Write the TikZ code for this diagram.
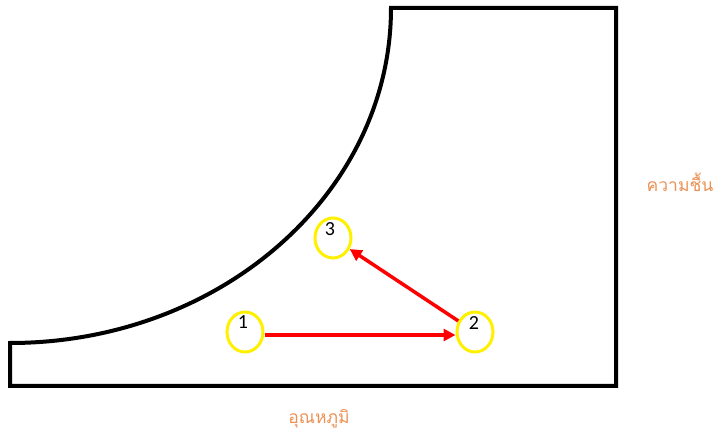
\documentclass[tikz,border=0pt]{standalone}
\usepackage{fontspec}
\setmainfont{Carlito}
\newfontfamily\thaifont[Script=Thai]{Loma}
\usepackage{tikz}
\usetikzlibrary{shapes.geometric, arrows.meta, positioning, calc}
\definecolor{stateyellow}{RGB}{255, 240, 0}
\definecolor{moveRed}{RGB}{255, 0, 0}
\definecolor{axisorange}{RGB}{235, 145, 85}

\begin{document}
\begin{tikzpicture}[
    x=1pt, y=1pt,
    region/.style={draw=black, line width=4pt, line join=miter},
    state/.style={ellipse, draw=stateyellow, line width=3pt, minimum width=36pt, minimum height=40pt, inner sep=0pt},
    num/.style={font=\fontsize{20}{20}\selectfont, text=black, inner sep=0pt},
    move/.style={draw=moveRed, line width=3.5pt, -{Triangle[length=12pt, width=12pt]}},
    axis/.style={font=\thaifont\fontsize{17.5}{20}\selectfont, text=axisorange}
]
    \useasboundingbox (0,0) rectangle (716,437);

    % comfort region
    \draw [region] (391,429) arc[start angle=0, end angle=-90, x radius=381, y radius=335]
        -- (10,51) -- (616,51) -- (616,429) -- cycle;

    \node (s1) [state] at (245,105) {};
    \node (s2) [state] at (475,105) {};
    \node (s3) [state] at (333,199) {};
    \node [num] at ($(s1)+(-2,10)$) {1};
    \node [num] at ($(s2)+(-1,9)$) {2};
    \node [num] at ($(s3)+(-3,9)$) {3};

    \draw [move] ([yshift=-3pt]s1.east) -- ([yshift=-3pt]s2.west);
    \draw [move] (s2) -- (s3);

    \node (hum) [axis] at (680,255) {ความชื้น};
    \node (temp) [axis] at (319,18) {อุณหภูมิ};
\end{tikzpicture}
\end{document}
